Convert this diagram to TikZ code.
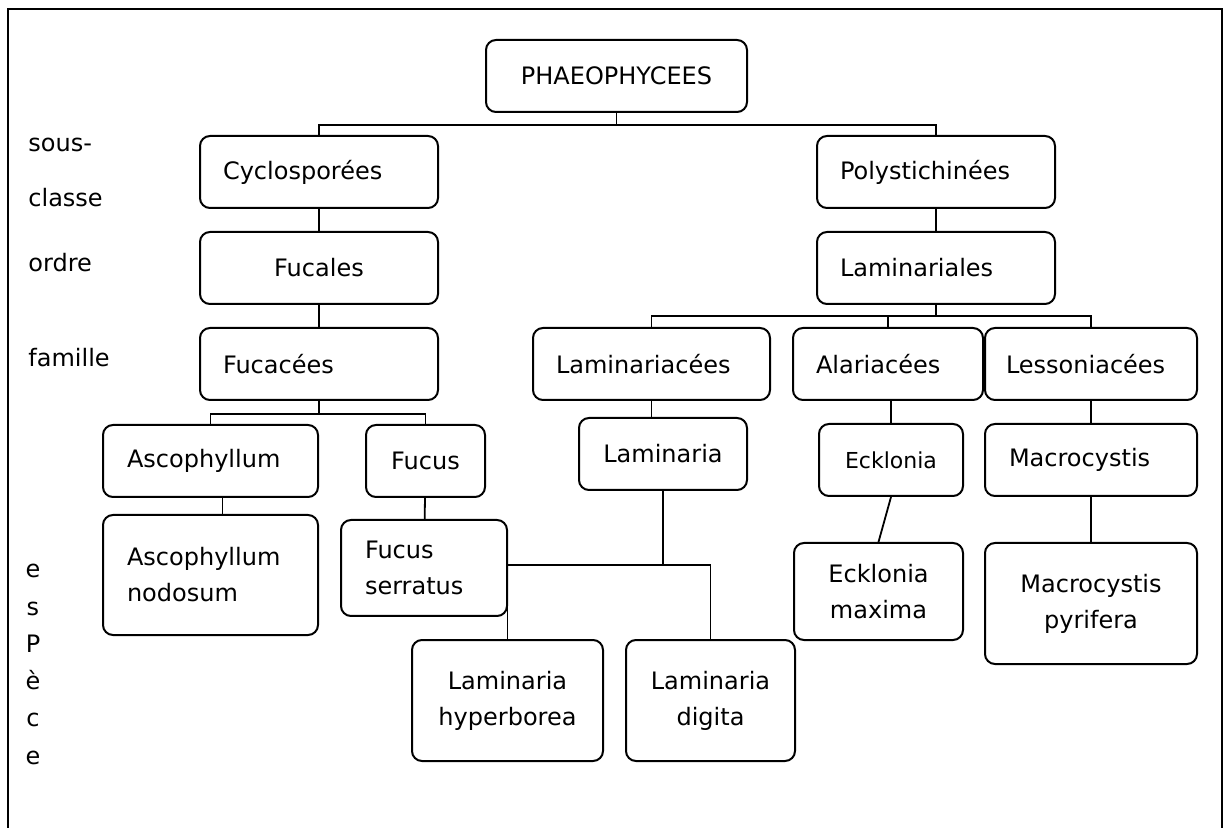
\documentclass[tikz,border=0pt]{standalone}
\usepackage{fontspec}
\setmainfont{DejaVu Sans}
\begin{document}
\begin{tikzpicture}[x=0.5pt,y=-0.5pt,
  box/.style={draw,rounded corners=5pt,line width=1pt,inner xsep=0pt,inner ysep=2pt,font=\fontsize{12}{18}\selectfont},
  lbox/.style={box,align=left,inner xsep=11.5pt},
  cbox/.style={box,align=center},
  lbl/.style={font=\fontsize{12}{18}\selectfont,inner sep=0pt},
  link/.style={line width=0.9pt}]
\useasboundingbox (0,0) rectangle (1227,828);
\draw[line width=1.3pt] (8,828) -- (8,9) -- (1222,9) -- (1222,828);

\node[lbl,anchor=base west] (sous) at (28,152) {sous-};
\node[lbl,anchor=base west] (classe) at (28,207) {classe};
\node[lbl,anchor=base west] (ordre) at (28,272) {ordre};
\node[lbl,anchor=base west] (famille) at (28,367) {famille};
\foreach \l [count=\i] in {e,s,P,è,c,e}
  \node[lbl,anchor=base] (esp\i) at (33,{578+37.2*(\i-1)}) {\l};

\node[cbox,text width=130.5pt,minimum height=36pt] (phaeo) at (616.5,76) {PHAEOPHYCEES};

\node[lbox,text width=96pt,minimum height=36pt] (cyclo) at (319,172) {Cyclosporées};
\node[lbox,text width=96pt,minimum height=36pt] (polys) at (936,172) {Polystichinées};

\node[cbox,text width=119pt,minimum height=36pt] (fucales) at (319,268) {Fucales};
\node[lbox,text width=96pt,minimum height=36pt] (laminariales) at (936,268) {Laminariales};

\node[lbox,text width=96pt,minimum height=36pt] (fucacees) at (319,364) {Fucacées};
\node[lbox,text width=95.5pt,minimum height=36pt] (laminariacees) at (651.5,364) {Laminariacées};
\node[lbox,text width=72pt,minimum height=36pt] (alariacees) at (888,364) {Alariacées};
\node[lbox,text width=85pt,inner xsep=10.5pt,minimum height=36pt] (lessoniacees) at (1091,364) {Lessoniacées};

\node[lbox,text width=83.5pt,inner xsep=12pt,minimum height=36pt] (ascophyllum) at (210.5,461) {Ascophyllum};
\node[cbox,text width=59.5pt,minimum height=36pt] (fucus) at (425.5,461) {Fucus};
\node[cbox,text width=84pt,minimum height=36pt] (laminaria) at (663,454) {Laminaria};
\node[cbox,text width=72pt,minimum height=36pt,font=\fontsize{11}{16}\selectfont] (ecklonia) at (891,460) {Ecklonia};
\node[lbox,text width=82pt,inner xsep=12pt,minimum height=36pt] (macrocystis) at (1091,460) {Macrocystis};

\node[lbox,text width=83.5pt,inner xsep=12pt,minimum height=60pt] (ascnod) at (210.5,575) {Ascophyllum\\nodosum};
\node[lbox,text width=59pt,inner xsep=12pt,minimum height=48pt] (fucser) at (424,568) {Fucus\\serratus};
\node[cbox,text width=95.5pt,minimum height=60.5pt] (lamhyp) at (507.5,700.5) {Laminaria\\hyperborea};
\node[cbox,text width=84.5pt,minimum height=60.5pt] (lamdig) at (710.5,700.5) {Laminaria\\digita};
\node[cbox,text width=84.5pt,minimum height=48.5pt] (eckmax) at (878.5,591.5) {Ecklonia\\maxima};
\node[cbox,text width=106pt,minimum height=60.5pt] (macpyr) at (1091,603.5) {Macrocystis\\pyrifera};

\path[draw,link] (phaeo.south) -- ++(0,12) -| (cyclo.north);
\path[draw,link] (phaeo.south) -- ++(0,12) -| (polys.north);
\path[draw,link] (cyclo) -- (fucales);
\path[draw,link] (fucales) -- (fucacees);
\path[draw,link] (polys) -- (laminariales);
\path[draw,link] (laminariales.south) -- ++(0,11) -| (laminariacees.north);
\path[draw,link] (laminariales.south) -- ++(0,11) -| (alariacees.north);
\path[draw,link] (laminariales.south) -- ++(0,11) -| (lessoniacees.north);

\path[draw,link] (fucacees.south) -- ++(0,13) -| (ascophyllum.north);
\path[draw,link] (fucacees.south) -- ++(0,13) -| (fucus.north);
\path[draw,link] (laminariacees.south) -- (laminariacees.south |- laminaria.north);
\path[draw,link] (ecklonia.north |- alariacees.south) -- (ecklonia.north);
\path[draw,link] (macrocystis.north |- lessoniacees.south) -- (macrocystis.north);

\path[draw,link] ([xshift=6pt]ascophyllum.south) -- ([xshift=6pt]ascnod.north);
\path[draw,link] (fucus) -- (fucser);
\path[draw,link] (laminaria.south) -- ++(0,74) -| (lamhyp.north);
\path[draw,link] (laminaria.south) -- ++(0,74) -| (lamdig.north);
\path[draw,link] (ecklonia.south) -- (eckmax.north);
\path[draw,link] (macrocystis) -- (macpyr);
\end{tikzpicture}
\end{document}
